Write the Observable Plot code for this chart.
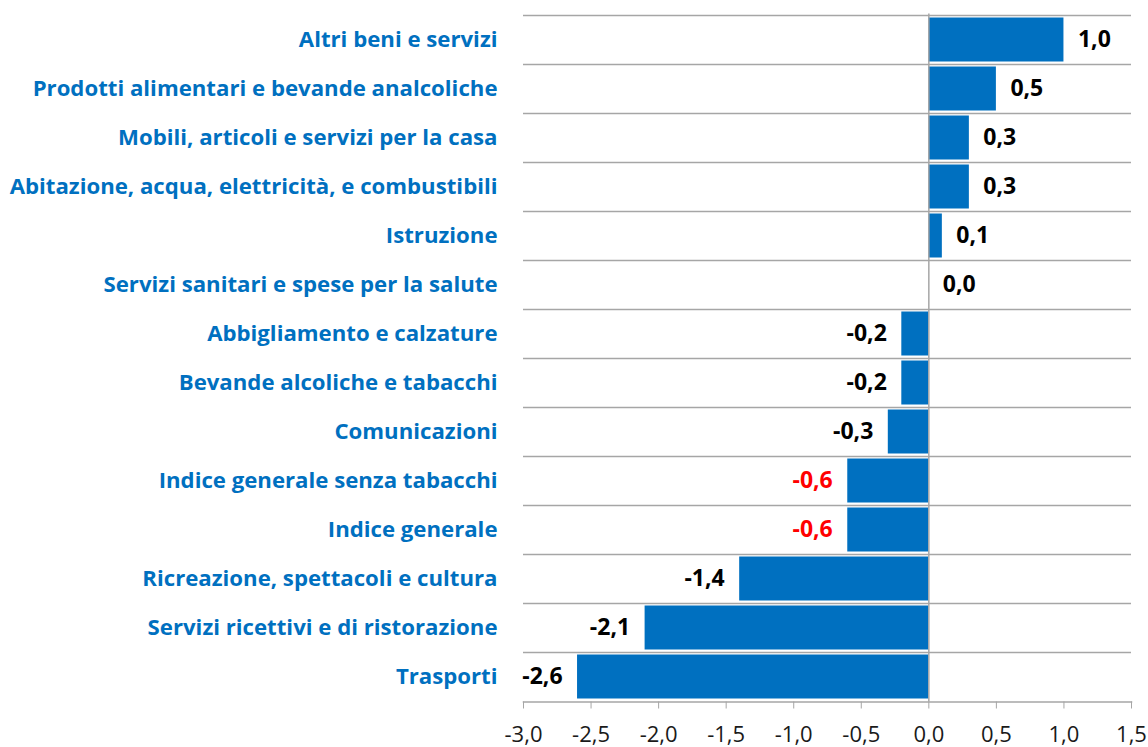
<!DOCTYPE html>
<html><head><meta charset="utf-8">
<script src="https://cdn.jsdelivr.net/npm/d3@7"></script>
<script src="https://cdn.jsdelivr.net/npm/@observablehq/plot@0.6"></script>
<style>html,body{margin:0;padding:0;background:#fff}svg{display:block}</style>
</head><body><div id="chart"></div>
<script>
const categories = [
  "Altri beni e servizi",
  "Prodotti alimentari e bevande analcoliche",
  "Mobili, articoli e servizi per la casa",
  "Abitazione, acqua, elettricità, e combustibili",
  "Istruzione",
  "Servizi sanitari e spese per la salute",
  "Abbigliamento e calzature",
  "Bevande alcoliche e tabacchi",
  "Comunicazioni",
  "Indice generale senza tabacchi",
  "Indice generale",
  "Ricreazione, spettacoli e cultura",
  "Servizi ricettivi e di ristorazione",
  "Trasporti"
];
const values = [1.0, 0.5, 0.3, 0.3, 0.1, 0.0, -0.2, -0.2, -0.3, -0.6, -0.6, -1.4, -2.1, -2.6];
const highlighted = ["Indice generale senza tabacchi", "Indice generale"];
const xTicks = [-3, -2.5, -2, -1.5, -1, -0.5, 0, 0.5, 1, 1.5];

const data = categories.map((c, i) => ({category: c, value: values[i], highlight: highlighted.includes(c)}));
const fmt = v => v.toFixed(1).replace(".", ",");

const W = 1148, H = 747, mT = 13.5, mB = 45.5, mL = 523, mR = 17;
const step = (H - mT - mB) / categories.length;
const BLUE = "#0070C0", GRID = "#a6a6a6";
const FONT = "'Open Sans', Lato, sans-serif";

const chart = Plot.plot({
  width: W, height: H,
  marginTop: mT, marginBottom: mB, marginLeft: mL, marginRight: mR,
  style: {fontFamily: FONT, fontSize: "20px", background: "#fff", color: "#000"},
  x: {domain: [-3, 1.5]},
  y: {domain: categories, padding: 0},
  color: {type: "identity"},
  marks: [
    Plot.ruleY(categories, {y: d => d, dy: -step / 2, stroke: GRID, strokeWidth: 1.5}),
    Plot.barX(data, {x: "value", y: "category", fill: BLUE, insetTop: 2.5, insetBottom: 2.5}),
    Plot.ruleX([0], {stroke: GRID, strokeWidth: 1.5}),
    Plot.frame({anchor: "bottom", stroke: GRID, strokeWidth: 1.5}),
    Plot.axisX({ticks: xTicks, tickFormat: fmt, tickSize: 7, tickPadding: 17, stroke: GRID, fill: "#1a1a1a", fontSize: 22, label: null}),
    Plot.axisY({tickSize: 0, tickPadding: 26, fill: BLUE, fontWeight: "bold", fontSize: 22.2, label: null}),
    Plot.text(data.filter(d => d.value >= 0), {x: "value", y: "category", text: d => fmt(d.value), textAnchor: "start", dx: 14,
      fill: d => d.highlight ? "#FF0000" : "#000", fontWeight: "bold", fontSize: 23}),
    Plot.text(data.filter(d => d.value < 0), {x: "value", y: "category", text: d => fmt(d.value), textAnchor: "end", dx: -15,
      fill: d => d.highlight ? "#FF0000" : "#000", fontWeight: "bold", fontSize: 23})
  ]
});
document.getElementById("chart").appendChild(chart);
</script>
</body></html>
